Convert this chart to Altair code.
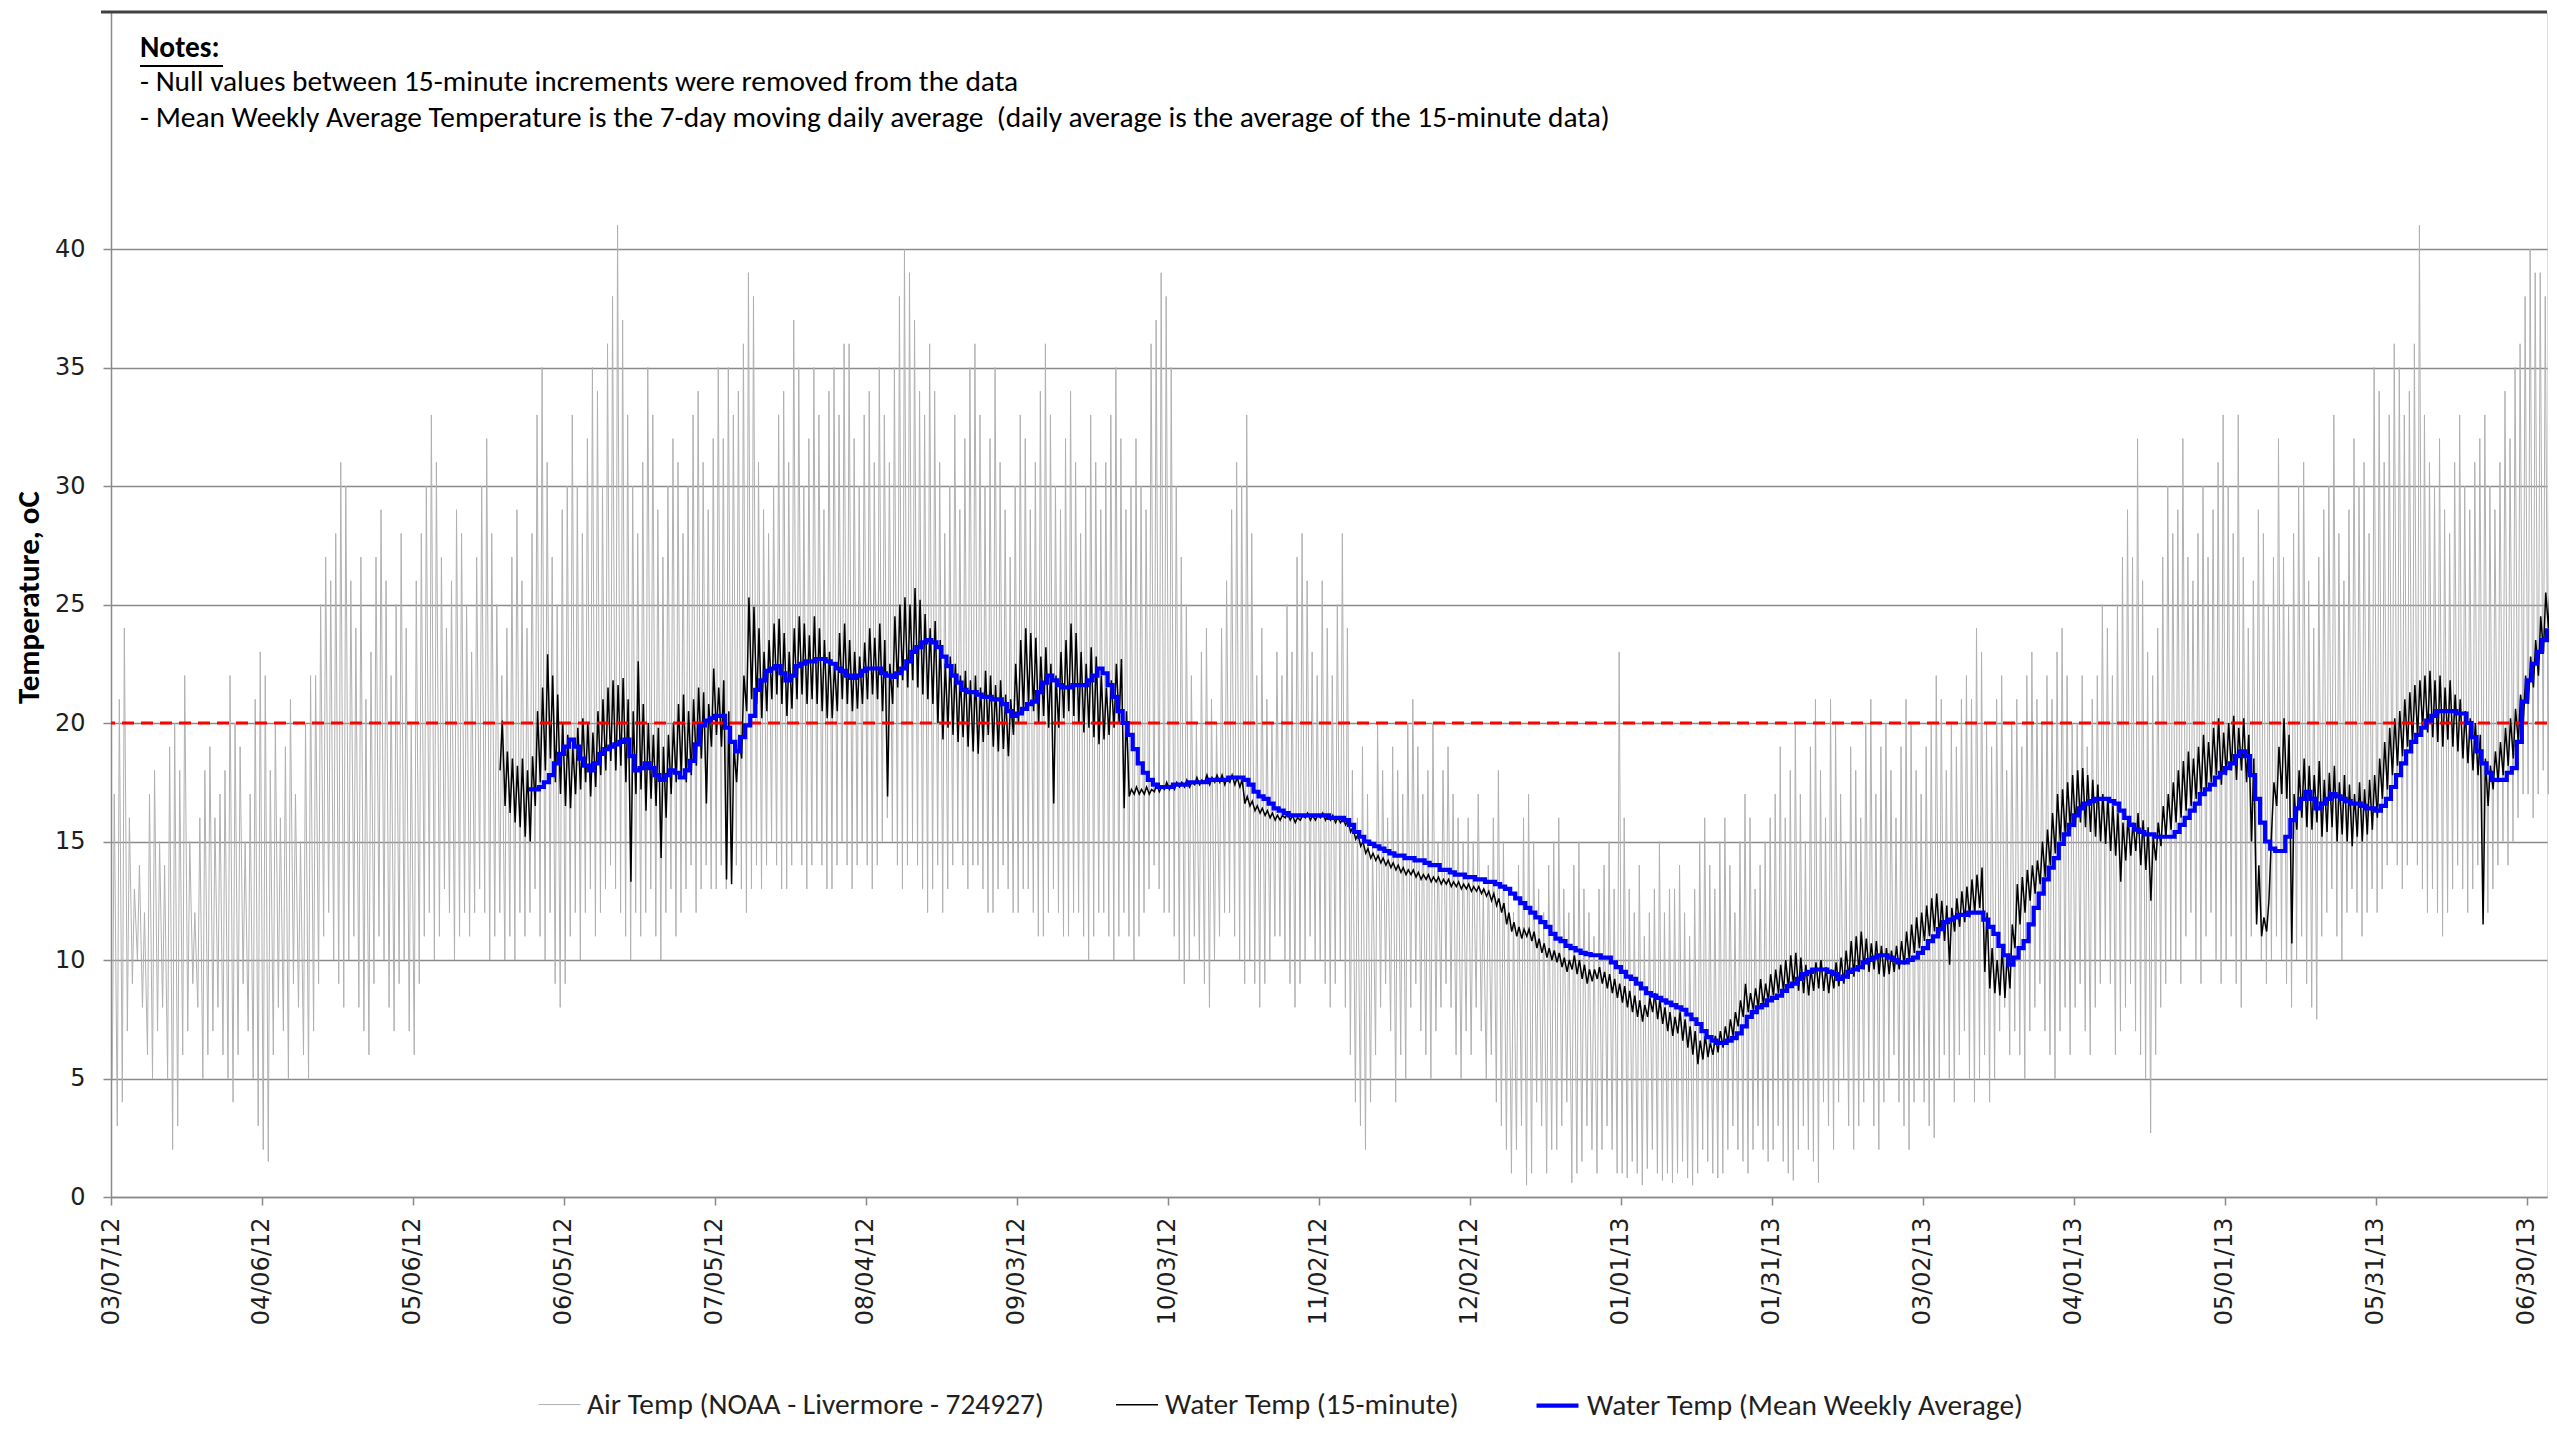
import altair as alt
import pandas as pd
from datetime import datetime, timezone

# ---------------- data ----------------
START_DATE = "03/07/12"
END_DATE = "07/04/13"
TICK_LABELS = ["03/07/12", "04/06/12", "05/06/12", "06/05/12", "07/05/12", "08/04/12",
               "09/03/12", "10/03/12", "11/02/12", "12/02/12", "01/01/13", "01/31/13",
               "03/02/13", "04/01/13", "05/01/13", "05/31/13", "06/30/13"]
Y_TICKS = [0, 5, 10, 15, 20, 25, 30, 35, 40]
THRESHOLD = 20

SERIES = ["Air Temp (NOAA - Livermore - 724927)",
          "Water Temp (15-minute)",
          "Water Temp (Mean Weekly Average)"]
COLORS = ["#b0b0b0", "#000000", "#0000ff"]
WIDTHS = [1.0, 1.5, 4.2]

NOTES = ["Notes:",
         "- Null values between 15-minute increments were removed from the data",
         "- Mean Weekly Average Temperature is the 7-day moving daily average \u00a0(daily average is the average of the 15-minute data)"]

# daily air temperature (day 0 = 03/07/12)
AIR_MAX = [
    17, 21, 24, 16, 13, 14, 12, 17, 18, 15,
    14, 19, 20, 18, 22, 15, 12, 16, 18, 19,
    16, 17, 18, 22, 20, 19, 15, 17, 21, 23,
    22, 18, 20, 16, 19, 21, 17, 15, 20, 22,
    22, 25, 27, 26, 28, 31, 30, 26, 24, 27,
    21, 23, 27, 29, 26, 22, 25, 28, 24, 20,
    26, 28, 30, 33, 31, 27, 24, 26, 29, 28,
    25, 23, 27, 30, 32, 28, 25, 22, 24, 27,
    29, 26, 24, 28, 33, 35, 31, 27, 25, 29,
    30, 33, 30, 28, 32, 35, 34, 30, 36, 38,
    41, 37, 33, 30, 28, 31, 35, 33, 29, 27,
    30, 32, 31, 28, 30, 33, 34, 31, 29, 32,
    35, 32, 35, 33, 34, 36, 39, 38, 31, 29,
    28, 30, 33, 34, 31, 37, 35, 30, 32, 35,
    33, 29, 34, 35, 33, 36, 36, 32, 30, 33,
    34, 31, 35, 33, 31, 35, 38, 40, 39, 37,
    34, 33, 36, 34, 31, 28, 30, 33, 29, 32,
    35, 36, 33, 30, 32, 35, 31, 29, 27, 30,
    33, 32, 29, 31, 34, 36, 33, 30, 29, 32,
    34, 31, 28, 30, 33, 31, 29, 31, 33, 35,
    32, 29, 30, 32, 30, 29, 36, 37, 39, 38,
    35, 30, 27, 25, 22, 20, 23, 24, 21, 20,
    24, 26, 29, 31, 30, 33, 28, 22, 24, 21,
    20, 23, 22, 25, 23, 27, 28, 26, 23, 22,
    26, 24, 22, 25, 28, 24, 18, 16, 19, 17,
    15, 20, 18, 16, 19, 18, 17, 20, 21, 19,
    17, 18, 20, 15, 18, 19, 17, 16, 15, 16,
    15, 17, 13, 14, 16, 18, 15, 13, 12, 14,
    16, 17, 15, 13, 12, 14, 15, 16, 13, 12,
    14, 15, 13, 12, 11, 13, 14, 15, 13, 23,
    16, 13, 12, 14, 11, 12, 13, 15, 12, 13,
    13, 14, 12, 11, 13, 15, 16, 14, 13, 15,
    16, 14, 12, 15, 17, 16, 13, 14, 15, 16,
    17, 19, 16, 18, 20, 17, 15, 19, 21, 18,
    16, 21, 20, 17, 15, 19, 18, 16, 20, 21,
    17, 19, 20, 18, 16, 19, 21, 20, 18, 17,
    19, 20, 22, 21, 18, 20, 19, 21, 22, 21,
    24, 23, 20, 19, 21, 22, 18, 20, 21, 19,
    22, 23, 21, 20, 22, 21, 23, 24, 22, 20,
    20, 22, 19, 21, 22, 25, 24, 22, 25, 27,
    29, 27, 32, 26, 23, 22, 24, 27, 30, 28,
    29, 32, 27, 26, 28, 30, 27, 29, 31, 33,
    30, 28, 33, 27, 24, 26, 29, 28, 25, 27,
    32, 27, 25, 28, 30, 31, 26, 24, 27, 29,
    30, 33, 28, 26, 29, 32, 30, 31, 28, 35,
    34, 31, 33, 36, 35, 33, 34, 36, 41, 33,
    31, 30, 32, 29, 28, 31, 33, 30, 29, 31,
    32, 33, 30, 29, 31, 34, 32, 35, 36, 38,
    40, 39, 39, 38, 39]
AIR_MIN = [
    5, 3, 4, 7, 9, 10, 8, 6, 5, 7,
    8, 5, 2, 3, 6, 7, 9, 8, 5, 6,
    7, 8, 6, 5, 4, 6, 9, 7, 5, 3,
    2, 1.5, 6, 8, 7, 5, 9, 8, 6, 5,
    7, 9, 11, 12, 10, 9, 8, 10, 11, 8,
    7, 6, 9, 11, 10, 8, 7, 9, 10, 7,
    6, 9, 11, 12, 10, 11, 13, 12, 10, 11,
    12, 11, 12, 13, 12, 10, 11, 12, 10, 11,
    10, 12, 11, 12, 13, 11, 10, 12, 9, 8,
    9, 11, 12, 10, 12, 13, 11, 12, 13, 14,
    13, 12, 11, 10, 12, 11, 12, 13, 11, 10,
    12, 13, 11, 12, 13, 14, 12, 13, 14, 13,
    13, 14, 13, 15, 14, 13, 12, 13, 14, 13,
    14, 15, 14, 13, 13, 14, 15, 14, 13, 14,
    15, 14, 13, 13, 14, 15, 14, 13, 14, 15,
    14, 13, 14, 15, 16, 15, 14, 13, 14, 15,
    14, 13, 12, 13, 14, 12, 13, 14, 15, 14,
    13, 14, 14, 13, 12, 12, 13, 14, 13, 12,
    12, 13, 13, 12, 11, 11, 12, 13, 12, 11,
    11, 12, 12, 11, 10, 11, 12, 12, 11, 10,
    11, 12, 11, 10, 11, 12, 13, 14, 13, 12,
    12, 11, 10, 9, 10, 11, 10, 9, 8, 10,
    11, 12, 12, 11, 10, 9, 10, 9, 8, 9,
    10, 11, 11, 10, 9, 8, 9, 10, 11, 10,
    10, 9, 8, 9, 10, 8, 6, 4, 3, 2,
    4, 6, 8, 9, 7, 4, 6, 5, 8, 9,
    7, 6, 5, 7, 8, 9, 8, 6, 5, 7,
    6, 8, 7, 5, 6, 4, 3, 2, 1, 2,
    3, 0.5, 1, 4, 3, 1, 2, 2, 3, 4,
    0.6, 1, 1.5, 3, 2, 1, 2, 3, 2, 1,
    1, 0.8, 1.5, 1, 0.5, 1.2, 2, 1, 0.7, 1,
    0.6, 1, 1.5, 0.8, 0.5, 1, 2, 1.5, 1, 0.8,
    1, 2, 3, 2, 1.5, 1, 2, 3, 2, 1.5,
    2, 3, 1.5, 1, 0.7, 2, 3, 2, 1.5, 0.6,
    4, 3, 2, 4, 5, 3, 2, 3, 4, 5,
    3, 2, 4, 5, 6, 4, 3, 2, 4, 5,
    4, 3, 2.5, 5, 6, 5, 4, 6, 7, 5,
    4, 5, 6, 4, 5, 7, 8, 6, 7, 6,
    5, 7, 8, 9, 7, 6, 5, 7, 8, 6,
    8, 9, 7, 6, 8, 9, 10, 9, 6, 7,
    8, 9, 7, 6, 5, 2.7, 6, 8, 9, 10,
    10, 9, 11, 12, 10, 9, 11, 12, 10, 9,
    10, 11, 9, 8, 10, 11, 12, 10, 9, 10,
    11, 10, 9, 8, 10, 11, 9, 8, 7.5, 11,
    12, 13, 11, 10, 12, 13, 12, 11, 12, 13,
    12, 13, 14, 15, 14, 13, 14, 15, 14, 13,
    12, 13, 12, 11, 12, 13, 14, 13, 12, 13,
    14, 13, 12, 13, 14, 15, 14, 15, 16, 17,
    17, 16, 17, 18, 17]

# daily water temperature extremes, from day 77 (05/23/12)
WATER_START_DAY = 77
WATER_MAX = [
    20.1, 18.8, 18.5,
    18.2, 18.5, 18.0, 18.6, 20.5, 21.5, 22.9, 22.0, 21.2, 20.0,
    19.5, 19.0, 19.8, 20.2, 20.0, 19.6, 20.5, 21.0, 21.5, 21.8,
    21.6, 21.9, 21.0, 20.5, 22.6, 20.8, 20.0, 19.5, 19.8, 19.0,
    19.5, 20.0, 20.8, 21.2, 20.5, 21.0, 21.5, 21.3, 20.8, 22.3,
    21.5, 21.8, 20.5, 19.0, 19.5, 22.0, 25.3, 24.9, 24.0, 23.0,
    23.5, 24.2, 24.4, 23.8, 23.0, 24.0, 24.5, 24.2, 23.7, 24.5,
    24.0, 23.5, 23.0, 22.5, 23.8, 24.2, 23.5, 23.0, 22.8, 23.4,
    24.0, 23.6, 24.2, 23.5, 22.5, 24.5, 25.0, 25.3, 25.0, 25.7,
    25.2, 24.6, 24.0, 24.3, 23.5, 22.5, 22.8, 22.5, 22.0, 22.2,
    21.8, 22.0, 21.5, 22.2, 22.0, 21.6, 21.8, 21.2, 21.0, 22.5,
    23.5, 24.0, 23.8, 23.6, 22.8, 23.2, 22.5, 22.0, 23.0, 23.5,
    24.2, 23.8, 23.0, 22.5, 23.2, 22.8, 22.0, 21.5, 21.8, 22.5,
    22.7, 20.5, 17.2, 17.3, 17.2, 17.3, 17.2, 17.4, 17.3, 17.5,
    17.4, 17.5, 17.5, 17.6, 17.5, 17.7, 17.6, 17.8, 17.7, 17.8,
    17.8, 17.7, 17.8, 17.7, 17.6, 16.9, 16.7, 16.5, 16.4, 16.3,
    16.2, 16.1, 16.1, 16.2, 16.1, 16.0, 16.1, 16.2, 16.1, 16.1,
    16.2, 16.1, 16.1, 16.0, 16.0, 15.9, 15.6, 15.3, 15.0, 14.7,
    14.5, 14.4, 14.3, 14.2, 14.1, 14.0, 13.9, 13.8, 13.8, 13.7,
    13.6, 13.6, 13.5, 13.5, 13.4, 13.4, 13.3, 13.3, 13.2, 13.2,
    13.1, 13.1, 13.0, 12.9, 12.8, 12.6, 12.4, 12.0, 11.6, 11.4,
    11.3, 11.3, 11.2, 10.9, 10.7, 10.5, 10.4, 10.3, 10.1, 10.0,
    10.2, 10.0, 9.8, 9.6, 9.6, 9.7, 9.5, 9.4, 9.2, 9.0,
    8.9, 8.7, 8.5, 8.3, 8.1, 8.4, 8.6, 8.3, 8.0, 7.8,
    7.6, 7.8, 7.5, 7.2, 7.0, 6.6, 6.8, 6.5, 6.8, 7.0,
    7.2, 7.5, 7.8, 8.3, 9.0, 8.6, 8.8, 9.2, 9.0, 9.4,
    9.6, 9.8, 10.0, 10.2, 10.3, 10.1, 9.8, 9.6, 9.9, 10.0,
    9.7, 9.6, 9.9, 10.1, 10.4, 10.8, 11.0, 11.2, 10.9, 10.7,
    10.8, 10.6, 10.5, 10.4, 10.6, 10.8, 11.2, 11.5, 11.8, 12.0,
    12.3, 12.6, 12.8, 12.5, 12.3, 12.2, 12.6, 12.9, 13.1, 13.4,
    13.6, 13.9, 12.0, 10.5, 10.0, 10.5, 10.2, 11.5, 13.2, 13.5,
    13.8, 14.0, 14.2, 15.0, 15.5, 16.2, 17.0, 17.2, 17.5, 17.8,
    18.0, 18.1, 17.8, 17.6, 17.4, 17.0, 16.8, 16.5, 16.2, 15.8,
    16.0, 15.8, 16.2, 15.9, 15.6, 15.2, 15.8, 16.5, 17.0, 17.5,
    18.0, 18.4, 18.8, 18.5, 19.0, 19.5, 19.2, 19.8, 20.2, 19.6,
    20.0, 20.3, 19.8, 20.2, 19.5, 18.5, 14.0, 11.8, 12.5, 17.5,
    19.0, 20.2, 19.5, 17.0, 18.0, 18.5, 18.2, 17.8, 18.4, 17.6,
    17.9, 18.2, 17.5, 17.8, 17.4, 17.0, 17.5, 17.2, 17.6, 17.8,
    18.5, 19.2, 19.8, 20.2, 20.5, 21.0, 21.3, 21.6, 21.8, 22.0,
    22.2, 21.8, 22.0, 21.5, 21.8, 21.2, 21.0, 20.5, 20.2, 20.0,
    19.5, 18.5, 18.2, 18.8, 19.2, 19.8, 20.2, 20.6, 21.2, 22.0,
    22.8, 23.5, 24.5, 25.5, 26.5]
WATER_MIN = [
    18.0, 16.5, 16.2,
    15.8, 15.6, 15.2, 15.0, 16.5, 17.5, 18.0, 18.5, 17.5, 17.0,
    16.5, 16.4, 17.0, 17.2, 17.5, 16.9, 17.3, 17.8, 18.0, 18.4,
    18.0, 18.2, 17.5, 13.3, 17.0, 17.2, 16.3, 16.8, 16.5, 14.3,
    16.0, 17.0, 17.5, 17.8, 17.5, 17.8, 18.2, 18.5, 16.6, 19.0,
    19.5, 19.0, 13.4, 13.2, 17.5, 18.5, 20.5, 21.0, 20.8, 20.2,
    20.5, 21.0, 21.2, 20.8, 20.3, 20.6, 21.0, 21.2, 20.8, 21.0,
    20.8, 20.5, 20.2, 20.2, 20.5, 21.0, 20.8, 20.5, 20.6, 20.8,
    21.0, 21.2, 21.0, 20.5, 16.9, 20.8, 21.5, 21.8, 21.5, 21.8,
    21.5, 21.2, 21.0, 20.8, 20.0, 19.3, 19.8, 19.5, 19.2, 19.4,
    19.0, 18.8, 18.7, 19.2, 19.5, 19.0, 18.8, 18.9, 18.6, 19.5,
    20.0, 20.5, 20.8, 20.5, 20.0, 20.3, 19.8, 16.6, 19.8, 20.2,
    20.5, 20.3, 20.0, 19.6, 19.8, 19.4, 19.1, 19.3, 19.5, 19.8,
    20.0, 16.4, 16.9, 17.0, 17.0, 17.0, 17.0, 17.1, 17.1, 17.2,
    17.2, 17.2, 17.3, 17.3, 17.3, 17.4, 17.4, 17.5, 17.4, 17.5,
    17.5, 17.4, 17.5, 17.4, 17.3, 16.6, 16.5, 16.3, 16.2, 16.1,
    16.0, 15.9, 15.9, 16.0, 15.9, 15.8, 15.9, 16.0, 15.9, 15.9,
    16.0, 15.9, 15.9, 15.8, 15.8, 15.7, 15.4, 15.1, 14.8, 14.5,
    14.3, 14.2, 14.1, 14.0, 13.9, 13.8, 13.7, 13.6, 13.6, 13.5,
    13.4, 13.4, 13.3, 13.3, 13.2, 13.2, 13.1, 13.1, 13.0, 13.0,
    12.9, 12.9, 12.8, 12.7, 12.5, 12.3, 12.0, 11.5, 11.2, 11.0,
    10.9, 11.0, 10.8, 10.5, 10.3, 10.1, 10.0, 9.9, 9.7, 9.5,
    9.6, 9.4, 9.2, 9.0, 9.1, 9.2, 9.0, 8.8, 8.6, 8.4,
    8.2, 8.0, 7.8, 7.6, 7.4, 7.6, 7.8, 7.5, 7.3, 7.0,
    6.8, 6.9, 6.6, 6.3, 6.0, 5.6, 5.8, 5.9, 6.0, 6.1,
    6.3, 6.5, 6.8, 7.2, 7.6, 7.8, 7.9, 8.0, 8.1, 8.3,
    8.5, 8.6, 8.7, 8.8, 8.9, 8.7, 8.6, 8.5, 8.7, 8.8,
    8.7, 8.6, 8.8, 8.9, 9.0, 9.2, 9.3, 9.5, 9.6, 9.5,
    9.6, 9.4, 9.3, 9.4, 9.5, 9.6, 9.8, 10.0, 10.3, 10.5,
    10.8, 11.0, 11.2, 11.0, 10.8, 9.8, 11.2, 11.4, 11.6, 11.8,
    12.0, 12.2, 9.5, 8.8, 8.6, 8.5, 8.4, 8.8, 10.5, 11.5,
    12.0, 12.5, 12.8, 13.2, 13.5, 14.0, 14.5, 15.0, 15.2, 15.5,
    15.6, 15.8, 15.6, 15.4, 15.2, 15.0, 14.9, 14.6, 14.4, 13.3,
    14.2, 14.4, 14.6, 14.0, 13.8, 12.5, 14.2, 14.8, 15.2, 15.5,
    15.8, 16.0, 16.3, 16.5, 16.8, 17.0, 17.2, 17.5, 17.8, 17.4,
    17.8, 18.0, 17.6, 18.0, 17.5, 15.0, 11.5, 11.0, 11.2, 15.5,
    16.5, 17.0, 16.8, 10.7, 15.5, 16.0, 15.6, 15.5, 15.8, 15.2,
    15.4, 15.6, 15.0, 15.3, 15.0, 14.8, 15.2, 15.0, 15.3, 15.5,
    16.0, 16.8, 17.2, 17.8, 18.2, 18.6, 19.0, 19.2, 19.5, 19.8,
    19.6, 19.4, 19.2, 19.0, 19.3, 19.0, 18.8, 18.5, 18.3, 18.0,
    17.8, 11.5, 16.5, 17.2, 17.5, 17.8, 18.2, 18.5, 19.2, 20.0,
    20.8, 21.5, 22.0, 23.0, 24.0]

# 7-day moving average of daily mean water temperature, from day 83 (05/29/12)
MWAT_START_DAY = 83
MWAT = [
    17.2, 17.2, 17.3, 17.5, 17.8, 18.3, 18.7,
    19.0, 19.3, 19.0, 18.5, 18.2, 18.0, 18.3, 18.7, 18.9, 19.0,
    19.1, 19.2, 19.3, 18.6, 18.0, 18.1, 18.3, 18.1, 17.8, 17.6,
    17.8, 18.0, 17.9, 17.7, 18.0, 18.4, 19.1, 19.9, 20.1, 20.2,
    20.3, 20.3, 19.8, 19.2, 18.8, 19.4, 19.9, 20.3, 21.4, 21.8,
    22.2, 22.3, 22.4, 22.1, 21.8, 22.0, 22.4, 22.5, 22.6, 22.6,
    22.7, 22.7, 22.6, 22.5, 22.3, 22.2, 22.0, 21.9, 22.0, 22.2,
    22.3, 22.3, 22.3, 22.1, 22.0, 21.95, 22.1, 22.3, 22.6, 23.0,
    23.2, 23.4, 23.5, 23.4, 23.2, 22.8, 22.4, 22.0, 21.7, 21.4,
    21.3, 21.3, 21.2, 21.1, 21.1, 21.0, 21.0, 20.8, 20.5, 20.3,
    20.4, 20.6, 20.8, 20.9, 21.3, 21.7, 22.0, 21.8, 21.6, 21.5,
    21.5, 21.6, 21.6, 21.6, 21.8, 22.0, 22.3, 22.1, 21.6, 21.1,
    20.5, 20.0, 19.5, 18.9, 18.3, 17.9, 17.6, 17.4, 17.3, 17.3,
    17.3, 17.4, 17.4, 17.4, 17.5, 17.5, 17.5, 17.5, 17.6, 17.6,
    17.6, 17.6, 17.7, 17.7, 17.7, 17.6, 17.4, 17.1, 16.9, 16.8,
    16.6, 16.4, 16.3, 16.2, 16.1, 16.1, 16.1, 16.1, 16.1, 16.1,
    16.1, 16.1, 16.0, 16.0, 16.0, 15.9, 15.7, 15.4, 15.2, 15.0,
    14.9, 14.8, 14.7, 14.6, 14.5, 14.4, 14.4, 14.3, 14.3, 14.2,
    14.2, 14.1, 14.0, 14.0, 13.8, 13.8, 13.7, 13.6, 13.6, 13.5,
    13.5, 13.4, 13.4, 13.3, 13.3, 13.2, 13.1, 13.0, 12.8, 12.6,
    12.4, 12.2, 12.0, 11.8, 11.6, 11.4, 11.1, 10.9, 10.8, 10.6,
    10.5, 10.4, 10.3, 10.25, 10.2, 10.2, 10.1, 10.1, 9.9, 9.7,
    9.5, 9.3, 9.2, 9.0, 8.8, 8.6, 8.5, 8.4, 8.3, 8.2,
    8.1, 8.0, 7.9, 7.7, 7.5, 7.3, 7.0, 6.75, 6.6, 6.5,
    6.5, 6.6, 6.7, 6.9, 7.2, 7.6, 7.8, 8.0, 8.1, 8.3,
    8.4, 8.5, 8.7, 8.9, 9.0, 9.2, 9.4, 9.5, 9.6, 9.6,
    9.6, 9.5, 9.4, 9.2, 9.3, 9.5, 9.6, 9.7, 9.9, 10.0,
    10.1, 10.2, 10.2, 10.1, 10.0, 9.9, 9.9, 10.0, 10.1, 10.3,
    10.5, 10.8, 11.0, 11.3, 11.6, 11.7, 11.8, 11.9, 11.9, 12.0,
    12.0, 12.0, 11.7, 11.4, 11.1, 10.6, 10.2, 9.8, 10.1, 10.5,
    10.8, 11.5, 12.2, 12.8, 13.4, 13.9, 14.3, 14.9, 15.3, 15.7,
    16.1, 16.4, 16.6, 16.7, 16.8, 16.8, 16.8, 16.7, 16.6, 16.3,
    16.0, 15.7, 15.5, 15.4, 15.3, 15.3, 15.2, 15.2, 15.2, 15.2,
    15.4, 15.7, 16.0, 16.3, 16.6, 17.0, 17.2, 17.4, 17.7, 17.9,
    18.1, 18.3, 18.6, 18.8, 18.6, 17.8, 16.8, 15.8, 15.0, 14.7,
    14.6, 14.6, 15.2, 15.9, 16.4, 16.8, 17.1, 16.8, 16.4, 16.6,
    16.8, 17.0, 16.9, 16.8, 16.7, 16.6, 16.6, 16.5, 16.4, 16.4,
    16.3, 16.5, 16.8, 17.3, 17.8, 18.3, 18.8, 19.2, 19.5, 19.8,
    20.1, 20.3, 20.5, 20.5, 20.5, 20.5, 20.4, 20.4, 20.0, 19.4,
    18.8, 18.3, 17.9, 17.6, 17.6, 17.6, 17.9, 18.1, 19.2, 20.9,
    21.8, 22.5, 23.0, 23.5, 24.0]

# ---------------- helpers ----------------
DAY_MS = 86400000


def parse_date(s):
    return datetime.strptime(s, "%m/%d/%y").replace(tzinfo=timezone.utc)


T0 = parse_date(START_DATE).timestamp() * 1000


def ms(day):
    return T0 + day * DAY_MS


def dt(s):
    d = parse_date(s)
    return alt.DateTime(year=d.year, month=d.month, date=d.day, utc=True)


air_rows = []
for i, (mx, mn) in enumerate(zip(AIR_MAX, AIR_MIN)):
    air_rows.append({"t": ms(i + 0.25), "v": mn, "series": SERIES[0]})
    air_rows.append({"t": ms(i + 0.65), "v": mx, "series": SERIES[0]})
air_df = pd.DataFrame(air_rows)

water_rows = []
for i, (mx, mn) in enumerate(zip(WATER_MAX, WATER_MIN)):
    d = WATER_START_DAY + i
    water_rows.append({"t": ms(d + 0.3), "v": mn, "series": SERIES[1]})
    water_rows.append({"t": ms(d + 0.75), "v": mx, "series": SERIES[1]})
water_df = pd.DataFrame(water_rows)

mwat_df = pd.DataFrame({"t": [ms(MWAT_START_DAY + i) for i in range(len(MWAT))],
                        "v": MWAT, "series": SERIES[2]})

# ---------------- chart ----------------
W, H = 2436, 1185
AX_GRAY = "#8a8a8a"
TXT = "#1f1f1f"
CAL = "Carlito, Lato, sans-serif"

x_enc = alt.X("t:T",
              scale=alt.Scale(type="utc", domain=[dt(START_DATE), dt(END_DATE)]),
              axis=alt.Axis(values=[dt(s) for s in TICK_LABELS], format="%m/%d/%y",
                            labelAngle=270, labelAlign="right", labelBaseline="middle",
                            labelFont="DejaVu Sans", labelFontSize=24, labelColor=TXT,
                            labelPadding=12, tickSize=8, tickColor=AX_GRAY, tickWidth=1.5,
                            domainColor=AX_GRAY, domainWidth=1.5, grid=False,
                            labelOverlap=False, title=None))
y_enc = alt.Y("v:Q",
              scale=alt.Scale(domain=[0, 50], nice=False),
              axis=alt.Axis(values=Y_TICKS, grid=True, gridColor=AX_GRAY, gridWidth=1.5,
                            domainColor=AX_GRAY, domainWidth=1.5, tickColor=AX_GRAY,
                            tickWidth=1.5, tickSize=8, labelFont="DejaVu Sans",
                            labelFontSize=24, labelColor=TXT, labelPadding=18,
                            title="Temperature, oC", titleFont=CAL, titleFontSize=31,
                            titleFontWeight="bold", titleColor="#000000",
                            titleX=-82, titleY=585, titleAlign="center",
                            titleBaseline="middle"))

leg = alt.Legend(title=None, orient="none", legendX=427, legendY=1370,
                 direction="horizontal", symbolType="stroke", symbolSize=1764,
                 labelFont=CAL, labelFontSize=29.4, labelColor=TXT, labelOffset=6,
                 columnPadding=69, labelLimit=2000)
color_enc = alt.Color("series:N", scale=alt.Scale(type="ordinal", domain=SERIES, range=COLORS),
                      legend=leg)
sw_enc = alt.StrokeWidth("series:N", scale=alt.Scale(type="ordinal", domain=SERIES, range=WIDTHS),
                         legend=leg)

air = alt.Chart(air_df).mark_line().encode(x=x_enc, y=y_enc, color=color_enc, strokeWidth=sw_enc)
water = alt.Chart(water_df).mark_line().encode(x=x_enc, y=y_enc, color=color_enc, strokeWidth=sw_enc)
mwat = alt.Chart(mwat_df).mark_line(interpolate="step-after").encode(
    x=x_enc, y=y_enc, color=color_enc, strokeWidth=sw_enc)

thr = alt.Chart(pd.DataFrame({"v": [THRESHOLD]})).mark_rule(
    color="#ff0000", strokeDash=[12, 7], strokeWidth=3).encode(y=y_enc)

frame = alt.Chart(pd.DataFrame({"a": [0]})).mark_rule(color="#404040", strokeWidth=3).encode(
    x=alt.value(-10), x2=alt.value(W), y=alt.value(0))

note_layers = []
note_y = [36, 70, 106]
for i, line in enumerate(NOTES):
    note_layers.append(
        alt.Chart(pd.DataFrame({"line": [line]})).mark_text(
            align="left", baseline="middle", font=CAL, fontSize=29.4, color="#000000",
            fontWeight="bold" if i == 0 else "normal"
        ).encode(x=alt.value(29), y=alt.value(note_y[i]), text="line:N"))
underline = alt.Chart(pd.DataFrame({"a": [0]})).mark_rule(color="#000000", strokeWidth=2).encode(
    x=alt.value(29), x2=alt.value(112), y=alt.value(54))

chart = alt.layer(air, water, thr, mwat, frame, underline, *note_layers).properties(
    width=W, height=H,
    autosize=alt.AutoSizeParams(type="none"),
    padding={"left": 103, "top": 4, "right": 2, "bottom": 228},
).configure_view(strokeWidth=0).configure(background="#ffffff")

chart.save("out.html", embed_options={"renderer": "svg", "actions": False})
